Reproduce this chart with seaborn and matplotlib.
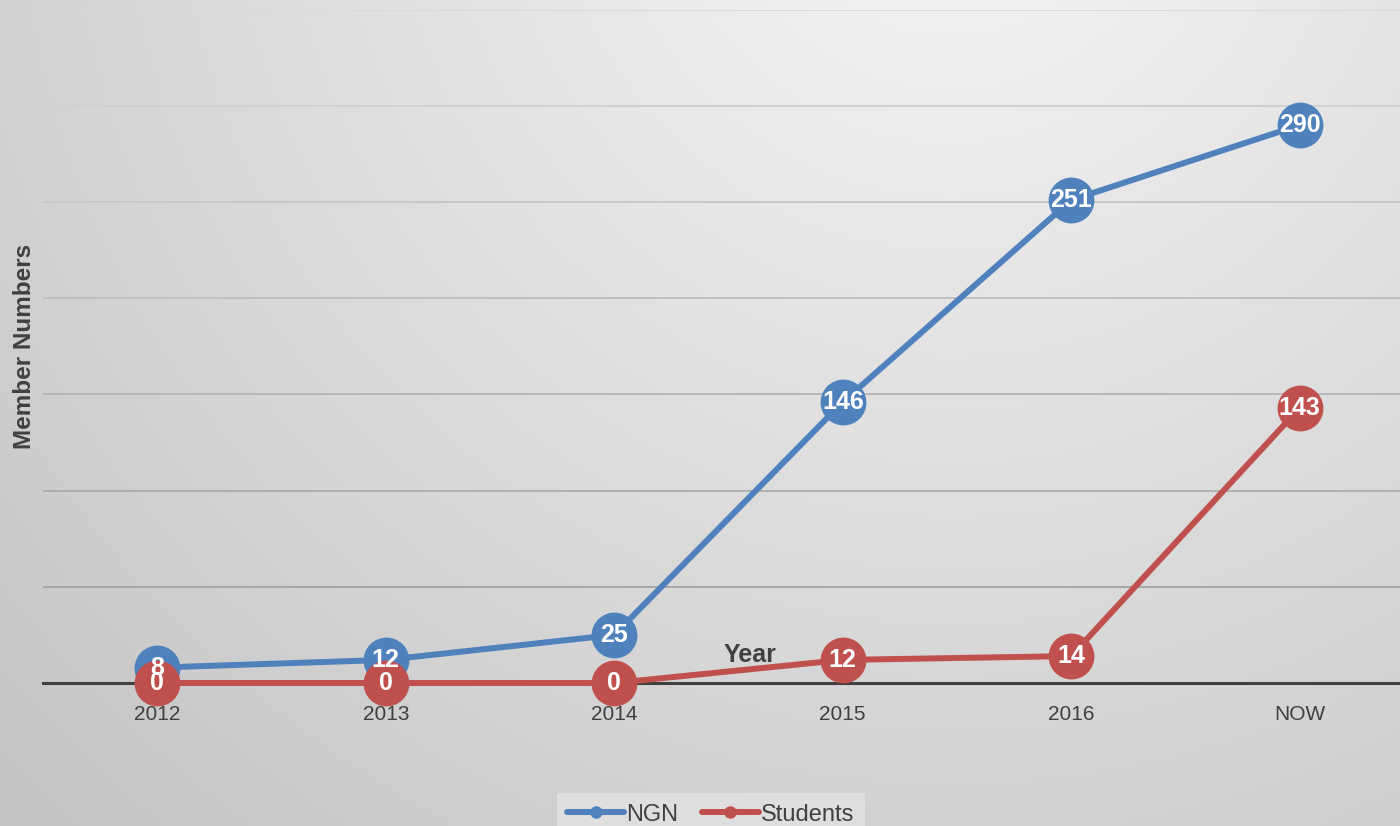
import numpy as np
import pandas as pd
import matplotlib
matplotlib.use("Agg")
import matplotlib.pyplot as plt
from matplotlib.lines import Line2D
import seaborn as sns

# ---- data ----
years = ["2012", "2013", "2014", "2015", "2016", "NOW"]
ngn = [8, 12, 25, 146, 251, 290]
students = [0, 0, 0, 12, 14, 143]
series_names = ["NGN", "Students"]
y_ticks = [0, 50, 100, 150, 200, 250, 300, 350]

colors = {"NGN": "#4F81BD", "Students": "#C0504D"}

df = pd.DataFrame({
    "Year": years * 2,
    "value": ngn + students,
    "series": ["NGN"] * len(years) + ["Students"] * len(years),
})

sns.set_theme(style="white")
plt.rcParams["font.family"] = ["Liberation Sans", "DejaVu Sans"]

W, H = 1400, 826
fig = plt.figure(figsize=(W / 100, H / 100), dpi=100)

# background radial gradient
bg = fig.add_axes([0, 0, 1, 1], zorder=-10)
yy, xx = np.mgrid[0:H, 0:W]
d = np.sqrt((xx - 950.0) ** 2 + ((yy + 150.0) * 1.0) ** 2)
d = d / np.sqrt(950.0 ** 2 + (H + 150.0) ** 2)
val = 0.965 - 0.20 * np.clip(d, 0, 1.1)
bg.imshow(np.dstack([val, val, val]), aspect="auto", extent=[0, 1, 0, 1],
          interpolation="bilinear")
bg.axis("off")

ax = fig.add_axes([43 / W, 143 / H, (1414 - 43) / W, (683 - 9.6) / H])
ax.set_facecolor("none")

sns.lineplot(data=df, x="Year", y="value", hue="series", palette=colors,
             hue_order=series_names, sort=False, marker="o", markersize=33,
             markeredgewidth=0, linewidth=4.3, legend=False, ax=ax)
for ln in ax.lines:
    ln.set_clip_on(False)
    ln.set_zorder(5)

for name, vals in zip(series_names, [ngn, students]):
    for i, v in enumerate(vals):
        ax.text(i, v, str(v), ha="center", va="center", color="white",
                fontsize=18, fontweight="bold", zorder=10)

ax.set_xlim(-0.5, len(years) - 0.5)
ax.set_ylim(y_ticks[0], y_ticks[-1])
ax.set_yticks(y_ticks)
ax.set_yticklabels([])
ax.tick_params(axis="both", length=0)
ax.tick_params(axis="x", pad=15.5, labelsize=15, labelcolor="#404040")

ax.grid(axis="y", linewidth=1.4)
ax.set_axisbelow(True)
gl = ax.get_ygridlines()
n = len(gl)
for k, line in enumerate(gl):
    t = k / (n - 1)
    c = 0.62 + 0.23 * t
    line.set_color((c, c, c))
    if k == 0:
        line.set_visible(False)

for s in ["top", "right", "left"]:
    ax.spines[s].set_visible(False)
ax.spines["bottom"].set_color("#404040")
ax.spines["bottom"].set_linewidth(2.2)
ax.spines["bottom"].set_zorder(1)

ax.set_xlabel("Year", fontsize=18, fontweight="bold", color="#404040")
ax.xaxis.set_label_coords((750 - 43) / 1371, (683 - 655) / 673.4)
ax.xaxis.label.set_va("center")
ax.set_ylabel("Member Numbers", fontsize=17.5, fontweight="bold", color="#404040")
ax.yaxis.set_label_coords((25 - 43) / 1371, 0.5)
ax.yaxis.label.set_va("center")

handles = [Line2D([0], [0], color=colors[nm], linewidth=4.3, marker="o",
                  markersize=9, markeredgewidth=0) for nm in series_names]
leg = fig.legend(handles, series_names, loc="upper center",
                 bbox_to_anchor=(711 / W, (H - 793) / H), ncol=2,
                 fontsize=17, frameon=True, handlelength=2.4,
                 handletextpad=0.1, columnspacing=1.0, borderpad=0.45,
                 borderaxespad=0, fancybox=False)
leg.get_frame().set_facecolor("#dedede")
leg.get_frame().set_edgecolor("none")
leg.get_frame().set_alpha(1)
for t in leg.get_texts():
    t.set_color("#404040")

fig.savefig("out.png", dpi=100)
